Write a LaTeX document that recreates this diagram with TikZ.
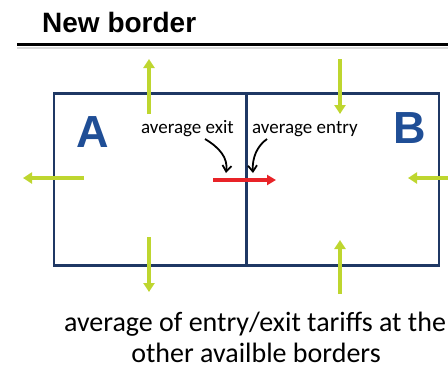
\documentclass[tikz,border=0pt]{standalone}
\usepackage{fontspec}
\setmainfont{Carlito}
\newfontfamily\arialfont{Liberation Sans}
\usetikzlibrary{arrows.meta}
\definecolor{navy}{RGB}{31,56,100}
\definecolor{letterblue}{RGB}{31,78,150}
\definecolor{lime}{RGB}{190,214,47}
\definecolor{arrred}{RGB}{232,35,40}
\tikzset{
  frame/.style={draw=navy, line width=2.6pt},
  greenarrow/.style={draw=lime, line width=4pt, -{Triangle[width=11pt,length=9pt]}},
  redarrow/.style={draw=arrred, line width=3.4pt, -{Triangle[width=10pt,length=9pt]}},
  pointer/.style={draw=black, line width=1.8pt, -{Straight Barb[width=9pt,length=6pt]}},
  label/.style={inner sep=0pt, anchor=base west, font=\fontsize{19}{23}\selectfont},
  bigletter/.style={inner sep=0pt, anchor=base west, text=letterblue, font=\arialfont\bfseries\fontsize{45}{50}\selectfont},
}
\begin{document}
\begin{tikzpicture}[x=1pt, y=-1pt]
\useasboundingbox (0,0) rectangle (448,368);
% title
\node[inner sep=0pt, anchor=base west, font=\arialfont\bfseries\fontsize{28}{32}\selectfont] (title) at (42,32) {New border};
\coordinate (rulel) at (17,44.5);
\coordinate (ruler) at (448,44.5);
\draw[gray!30, line width=2pt] (17,47.5) -- (448,47.5);
\draw[black, line width=3.5pt] (rulel) -- (ruler);
% boxes
\node[frame, minimum width=192.5pt, minimum height=172pt, anchor=north west, inner sep=0pt] (boxA) at (52.5,92) {};
\node[frame, minimum width=192.5pt, minimum height=172pt, anchor=north west, inner sep=0pt] (boxB) at (245,92) {};
% letters
\node[bigletter] (A) at (76,147) {A};
\node[bigletter] (B) at (393,143) {B};
% labels
\node[label] (exitlbl) at (141,133) {average exit};
\node[label] (entrylbl) at (252,133) {average entry};
% green arrows
\coordinate (tl1) at (149,114); \coordinate (tl2) at (149,59);
\coordinate (tr1) at (340,59);  \coordinate (tr2) at (340,114);
\coordinate (bl1) at (149,237); \coordinate (bl2) at (149,292);
\coordinate (br1) at (340,294); \coordinate (br2) at (340,240);
\coordinate (l1) at (84,178);   \coordinate (l2) at (23,178);
\coordinate (r1) at (452,178);  \coordinate (r2) at (408,178);
\draw[greenarrow] (tl1) -- (tl2);
\draw[greenarrow] (tr1) -- (tr2);
\draw[greenarrow] (bl1) -- (bl2);
\draw[greenarrow] (br1) -- (br2);
\draw[greenarrow] (l1) -- (l2);
\draw[greenarrow] (r1) -- (r2);
% red arrow
\coordinate (red1) at (213,180);
\coordinate (red2) at (276,180);
\draw[redarrow] (red1) -- (red2);
% pointers
\coordinate (p1s) at (205,139);
\coordinate (p1e) at (226,173);
\coordinate (p2s) at (267,139);
\coordinate (p2e) at (253,173);
\draw[pointer] (p1s) .. controls (220,148) and (228,158) .. (p1e);
\draw[pointer] (p2s) .. controls (257,146) and (252,158) .. (p2e);
% bottom text
\node[inner sep=0pt, anchor=base, font=\fontsize{28}{32}\selectfont] (bottom1) at (255,331) {average of entry/exit tariffs at the};
\node[inner sep=0pt, anchor=base, font=\fontsize{28}{32}\selectfont] (bottom2) at (256,362) {other availble borders};
\end{tikzpicture}
\end{document}
